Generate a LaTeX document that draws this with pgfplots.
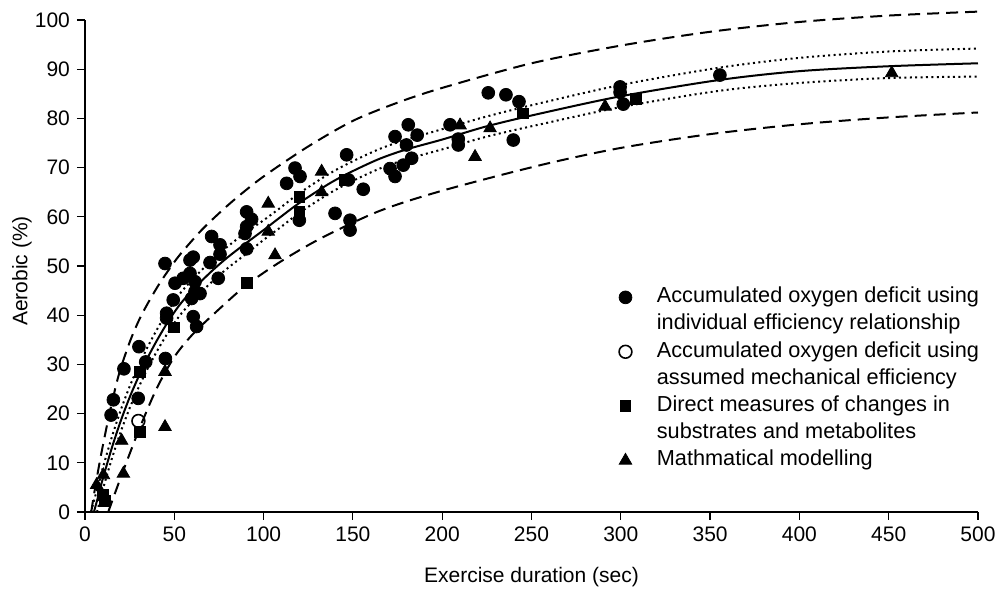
\documentclass[border=0pt]{standalone}
\usepackage{fontspec}
\setmainfont{Liberation Sans}
\usepackage{pgfplots}
\pgfplotsset{compat=1.18}

% fitted curve and its bands
\pgfplotstableread{
x y
5 0
8 4
10 6.8
15 13
20 18.5
25 23.3
30 27.5
35 31.3
40 34.7
45 37.8
50 40.6
55 43
64 46.5
72 49.3
80 51.8
90 54.6
100 57.3
110 60.1
120 62.8
137 66.8
150 69.3
165 71.8
180 73.7
200 75.7
225 78.4
255 81
300 84.5
355 87.8
400 89.6
450 90.6
500 91.2
}\meanline

\pgfplotstableread{
x y
3.3 0
8 6.2
10 9
15 15.2
20 20.7
25 25.5
30 29.7
35 33.5
40 36.9
45 40
50 42.8
55 45.2
64 48.7
72 51.5
80 54
90 56.8
100 59.3
110 62
120 64.8
137 68.8
150 71.3
165 73.8
180 75.7
200 77.8
225 80.4
255 83.1
300 86.8
355 90.3
400 92.3
450 93.6
500 94.2
}\ciupper

\pgfplotstableread{
x y
6.7 0
8 1.8
10 4.6
15 10.8
20 16.3
25 21.1
30 25.3
35 29.1
40 32.5
45 35.6
50 38.4
55 40.8
64 44.3
72 47.1
80 49.6
90 52.4
100 55.3
110 58
120 60.8
137 64.8
150 67.3
165 69.8
180 71.7
200 73.7
225 76.3
255 78.8
300 82.3
355 85.6
400 87.2
450 88.2
500 88.5
}\cilower

\pgfplotstableread{
x y
3.5 0
5 3.5
7.5 8.7
10 13.5
14 20.5
19 28
25 34.5
30 38.8
35 42.3
42 46.6
50 50.8
55 53.1
65 57.2
75 60.7
85 63.9
100 68.2
125 74.3
150 79.5
175 83.2
200 86.2
250 91.2
300 94.8
350 97.6
400 99.6
450 100.9
500 101.7
}\piupper

\pgfplotstableread{
x y
13 0
20 7
30 16.5
40 25
50 31.5
60 36
72 40.2
90 46
110 51
133 55.8
165 61.2
200 65.3
255 70.5
300 74
350 76.8
400 78.8
450 80.2
500 81.2
}\pilower

\begin{document}
\begin{tikzpicture}
\begin{axis}[
    width=446.5pt, height=246pt,
    scale only axis,
    xmin=0, xmax=500, ymin=0, ymax=100,
    xtick={0,50,...,500},
    ytick={0,10,...,100},
    axis x line*=bottom,
    axis y line*=left,
    axis line style={line width=0.6pt},
    tick style={line width=0.6pt, black},
    tick align=outside,
    major tick length=4pt,
    clip=false,
    tick label style={font=\fontsize{10.5}{12}\selectfont},
    /pgf/number format/assume math mode=true,
    xlabel={Exercise duration (sec)},
    ylabel={Aerobic (\%)},
    label style={font=\fontsize{10.5}{12}\selectfont},
    xlabel style={at={([yshift=-32.5pt]axis description cs:0.5,0)}, anchor=center},
    ylabel style={at={([xshift=-31.5pt]axis description cs:0,0.49)}, anchor=center},
    legend cell align=left,
    legend style={
        draw=none, fill=none,
        at={(axis description cs:0.5857,0.46)}, anchor=north west,
        inner sep=0pt,
        font=\fontsize{10.85}{12}\selectfont,
        row sep=2.3pt, column sep=12.5pt,
        nodes={inner sep=0pt, text height=8.3pt, text depth=3pt},
    },
]

\addplot[black, line width=1pt, smooth, forget plot] table {\meanline};
\addplot[black, line width=1pt, smooth, dash pattern=on 1pt off 1.7pt, forget plot] table {\ciupper};
\addplot[black, line width=1pt, smooth, dash pattern=on 1pt off 1.7pt, forget plot] table {\cilower};
\addplot[black, line width=1pt, smooth, dash pattern=on 6pt off 3.5pt, forget plot] table {\piupper};
\addplot[black, line width=1pt, smooth, dash pattern=on 6pt off 3.5pt, forget plot] table {\pilower};

% accumulated O2 deficit, individual efficiency
\addplot[only marks, mark=*, mark size=3.2pt, black] table {
14.6 19.7
15.9 22.8
21.8 29.1
29.8 23.1
30.2 33.6
34 30.5
44.8 50.5
45 31.2
45.7 40.4
45.7 39.4
49.4 43.1
50.4 46.5
55 47.5
58.8 48.5
58.8 51.2
60.6 51.8
61.6 46.8
61.6 44.8
64.4 44.4
59.7 43.4
60.6 39.7
62.5 37.7
70.9 56
75.6 54.3
75.6 52.4
70 50.7
74.6 47.5
90.5 61
93.3 59.5
90.5 58
89.6 56.6
90.5 53.5
112.9 66.8
117.6 69.9
120.4 68.2
120 59.3
140 60.7
146.5 72.6
147.5 67.5
148.4 59.3
148.4 57.3
155.8 65.6
170.8 69.8
173.6 68.2
173.6 76.3
178.2 70.5
180 74.6
181 78.7
182.9 71.9
186 76.6
204.4 78.7
209 74.6
209 75.8
225.8 85.2
235.7 84.8
239.8 75.6
243 83.4
299.6 86.4
299.6 85.3
301.4 82.9
355.5 88.8
};
\addlegendentry{Accumulated oxygen deficit using}
\addlegendimage{empty legend}
\addlegendentry{individual efficiency relationship}

% accumulated O2 deficit, assumed efficiency
\addplot[only marks, mark=o, mark size=3.2pt, black, mark options={line width=0.8pt}] table {
29.9 18.5
};
\addlegendentry{Accumulated oxygen deficit using}
\addlegendimage{empty legend}
\addlegendentry{assumed mechanical efficiency}

% direct measures
\addplot[only marks, mark=square*, mark size=2.7pt, black] table {
10 3.5
11 2.3
30.8 28.5
30.8 16.3
49.8 37.5
90.5 46.5
120 64
120 61
145.5 67.5
245.4 81
308.5 84
};
\addlegendentry{Direct measures of changes in}
\addlegendimage{empty legend}
\addlegendentry{substrates and metabolites}

% modelling
\addplot[only marks, mark=triangle*, mark size=3.6pt, black] table {
6.5 5.5
10.3 7.5
20.5 14.5
21.5 7.8
44.8 28.5
44.8 17.3
102.6 62.7
102.6 57
106.4 52.2
132.5 69.2
132.5 65
210 78.6
218.4 72.2
226.8 78
291.2 82.4
451.7 89.2
};
\addlegendentry{Mathmatical modelling}

\end{axis}
\pgfresetboundingbox
\path[use as bounding box] (-42.5pt,-38.5pt) rectangle (456.5pt,256pt);
\end{tikzpicture}
\end{document}
